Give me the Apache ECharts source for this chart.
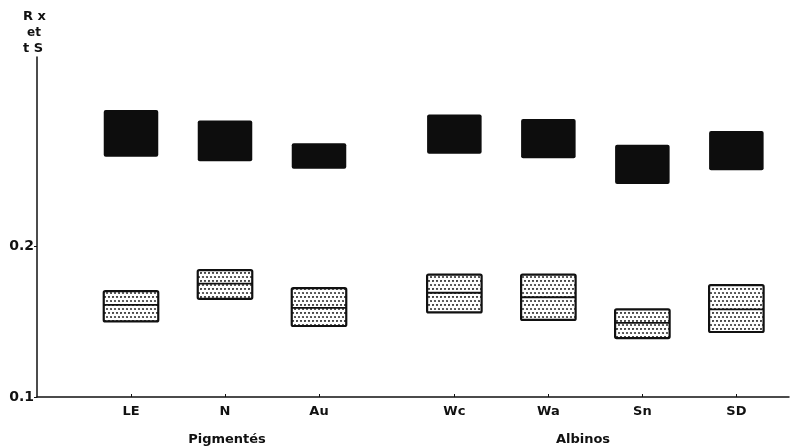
<!DOCTYPE html>
<html>
<head>
<meta charset="utf-8">
<script src="https://cdn.jsdelivr.net/npm/echarts@6/dist/echarts.min.js"></script>
<style>
  html, body { margin: 0; padding: 0; background: #fff; }
  #chart { width: 791px; height: 448px; }
</style>
</head>
<body>
<div id="chart"></div>
<script>
// strains, and where they sit on the x axis (gap between the two groups)
var categories = ['LE', 'N', 'Au', 'Wc', 'Wa', 'Sn', 'SD']
var xPositions = [1, 2, 3, 4.44, 5.44, 6.44, 7.44]

// black boxes (Rx)
var blackLow = [0.259, 0.256, 0.251, 0.261, 0.258, 0.241, 0.250]
var blackHigh = [0.290, 0.283, 0.268, 0.287, 0.284, 0.267, 0.276]

// dotted boxes (tS): low / mean / high
var dotLow = [0.150, 0.165, 0.147, 0.156, 0.151, 0.139, 0.143]
var dotMid = [0.161, 0.175, 0.159, 0.169, 0.166, 0.149, 0.158]
var dotHigh = [0.170, 0.184, 0.172, 0.181, 0.181, 0.158, 0.174]

var yTicks = [0.1, 0.2]
var groups = [
  { name: 'Pigmentés', x: 227 },
  { name: 'Albinos', x: 583 },
]

var HALF_W = 0.29
var FONT = 'DejaVu Sans, Liberation Sans, sans-serif'

// staggered dot pattern for the lower boxes
function makeDots() {
  var c = document.createElement('canvas')
  c.width = 8
  c.height = 8
  var ctx = c.getContext('2d')
  ctx.fillStyle = '#fff'
  ctx.fillRect(0, 0, 8, 8)
  ctx.fillStyle = '#3a3a3a'
  ;[[1, 1], [5, 1], [3, 5], [7, 5]].forEach(function (p) {
    ctx.beginPath()
    ctx.arc(p[0], p[1], 1.1, 0, Math.PI * 2)
    ctx.fill()
  })
  return c
}
var dots = makeDots()

var blackData = xPositions.map(function (x, i) {
  return [x, blackLow[i], blackHigh[i]]
})
var dotData = xPositions.map(function (x, i) {
  return [x, dotLow[i], dotMid[i], dotHigh[i]]
})

function nameAt(v) {
  var best = 0
  for (var i = 1; i < xPositions.length; i++) {
    if (Math.abs(xPositions[i] - v) < Math.abs(xPositions[best] - v)) best = i
  }
  return categories[best]
}

function blackItem(params, api) {
  var x = api.value(0)
  var p1 = api.coord([x - HALF_W, api.value(2)])
  var p2 = api.coord([x + HALF_W, api.value(1)])
  return {
    type: 'rect',
    shape: { x: p1[0], y: p1[1], width: p2[0] - p1[0], height: p2[1] - p1[1], r: 2 },
    style: { fill: '#0d0d0d' },
  }
}

function dotItem(params, api) {
  var x = api.value(0)
  var p1 = api.coord([x - HALF_W, api.value(3)])
  var p2 = api.coord([x + HALF_W, api.value(1)])
  var ym = api.coord([x, api.value(2)])[1]
  return {
    type: 'group',
    children: [
      {
        type: 'rect',
        shape: { x: p1[0], y: p1[1], width: p2[0] - p1[0], height: p2[1] - p1[1], r: 1.5 },
        style: { fill: { image: dots, repeat: 'repeat' }, stroke: '#111', lineWidth: 2.2 },
      },
      {
        type: 'line',
        shape: { x1: p1[0], y1: ym, x2: p2[0], y2: ym },
        style: { stroke: '#111', lineWidth: 1.8 },
      },
    ],
  }
}

var myChart = echarts.init(document.getElementById('chart'))
myChart.setOption({
  animation: false,
  backgroundColor: '#fff',
  grid: { left: 37, right: 2, top: 57, bottom: 51, containLabel: false },
  xAxis: {
    type: 'value',
    min: 0,
    max: 8,
    splitLine: { show: false },
    axisLine: { lineStyle: { color: '#111', width: 1.5 } },
    axisTick: { customValues: xPositions, inside: true, length: 3, lineStyle: { color: '#111' } },
    axisLabel: {
      customValues: xPositions,
      margin: 8,
      color: '#111',
      fontWeight: 'bold',
      fontSize: 13,
      fontFamily: FONT,
      formatter: function (v) {
        return nameAt(v)
      },
    },
  },
  yAxis: {
    type: 'value',
    min: 0.1,
    max: 0.325,
    splitLine: { show: false },
    axisLine: { show: true, lineStyle: { color: '#111', width: 1.5 } },
    axisTick: { customValues: yTicks, length: 3, lineStyle: { color: '#111' } },
    axisLabel: {
      customValues: yTicks,
      margin: 3,
      padding: [0, 0, 6, 0],
      color: '#111',
      fontWeight: 'bold',
      fontSize: 14,
      fontFamily: FONT,
      formatter: function (v) {
        return v.toFixed(1)
      },
    },
  },
  graphic: [
    { type: 'text', left: 23, top: 10, style: { text: 'R x', font: 'bold 13px ' + FONT, fill: '#111' } },
    { type: 'text', left: 27, top: 27, style: { text: 'et', font: 'bold 12px ' + FONT, fill: '#111' } },
    { type: 'text', left: 23, top: 42, style: { text: 't S', font: 'bold 13px ' + FONT, fill: '#111' } },
  ].concat(groups.map(function (g) {
    return {
      type: 'text',
      x: g.x,
      y: 440,
      style: {
        text: g.name,
        font: 'bold 13px ' + FONT,
        fill: '#111',
        align: 'center',
        verticalAlign: 'middle',
      },
    }
  })),
  series: [
    { type: 'custom', renderItem: blackItem, data: blackData, encode: { x: 0, y: [1, 2] } },
    { type: 'custom', renderItem: dotItem, data: dotData, encode: { x: 0, y: [1, 3] } },
  ],
})
</script>
</body>
</html>
